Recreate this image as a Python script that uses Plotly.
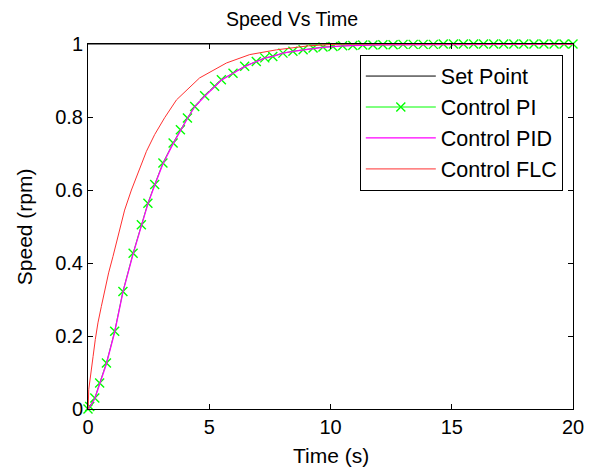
import plotly.graph_objects as go

# ---- data ----
set_t = [0, 20]
set_y = [1, 1]

pi_t = [0, 0.07, 0.28, 0.48, 0.76, 1.1, 1.44, 1.86, 2.2, 2.47, 2.75, 3.09, 3.51, 3.81,
        4.1, 4.4, 4.81, 5.22, 5.5, 5.98, 6.46, 6.94, 7.29, 7.62, 8.04, 8.45, 8.87, 9.28,
        9.69, 10.1, 10.5, 10.92, 11.33, 11.75, 12.16, 12.58, 12.99, 13.41, 13.82, 14.24,
        14.65, 15.07, 15.48, 15.9, 16.31, 16.73, 17.14, 17.56, 17.97, 18.39, 18.8, 19.22,
        19.63, 20.0]
pi_y = [0, 0.007, 0.03, 0.071, 0.126, 0.213, 0.322, 0.427, 0.505, 0.564, 0.615, 0.674,
        0.729, 0.765, 0.797, 0.829, 0.858, 0.884, 0.902, 0.92, 0.939, 0.952, 0.962, 0.966,
        0.975, 0.98, 0.984, 0.989, 0.992, 0.993, 0.995, 0.996, 0.997, 0.997, 0.998, 0.998,
        0.999, 0.999, 0.999, 0.999, 1.0, 1.0, 1.0, 1.0, 1.0, 1.0, 1.0, 1.0, 1.0, 1.0, 1.0,
        1.0, 1.0, 1.0]

pid_t = [0, 0.07, 0.28, 0.48, 0.76, 1.1, 1.44, 1.86, 2.2, 2.47, 2.75, 3.09, 3.51, 3.81,
         4.1, 4.4, 4.81, 5.22, 5.5, 5.98, 6.46, 6.94, 7.29, 7.62, 8.04, 8.45, 8.87, 9.28,
         9.69, 10.1, 10.5, 12.0, 14.0, 16.0, 18.0, 20.0]
pid_y = [0, 0.006, 0.028, 0.069, 0.124, 0.211, 0.32, 0.425, 0.503, 0.562, 0.613, 0.672,
         0.727, 0.764, 0.796, 0.828, 0.857, 0.883, 0.901, 0.92, 0.938, 0.952, 0.961, 0.966,
         0.975, 0.98, 0.984, 0.988, 0.991, 0.993, 0.995, 0.998, 0.999, 1.0, 1.0, 1.0]

flc_t = [0, 0.01, 0.03, 0.11, 0.21, 0.3, 0.41, 0.55, 0.69, 0.85, 1.03, 1.24, 1.51, 1.79,
         2.06, 2.41, 2.75, 3.16, 3.65, 4.6, 5.71, 6.67, 7.77, 9.1, 10.4, 20.0]
flc_y = [0, 0.007, 0.053, 0.099, 0.144, 0.19, 0.236, 0.281, 0.327, 0.373, 0.418, 0.473,
         0.545, 0.6, 0.648, 0.706, 0.752, 0.798, 0.847, 0.907, 0.948, 0.971, 0.984, 0.995,
         1.0, 1.0]

x_ticks = [0, 5, 10, 15, 20]
x_tick_text = ["0", "5", "10", "15", "20"]
y_ticks = [0, 0.2, 0.4, 0.6, 0.8, 1.0]
y_tick_text = ["0", "0.2", "0.4", "0.6", "0.8", "1"]

FONT = "Liberation Sans, Arial, sans-serif"

fig = go.Figure()
fig.add_trace(go.Scatter(x=set_t, y=set_y, mode="lines", name="Set Point",
                         line=dict(color="black", width=1)))
fig.add_trace(go.Scatter(x=pi_t, y=pi_y, mode="lines+markers", name="Control PI",
                         line=dict(color="#00ff00", width=1),
                         marker=dict(symbol="x-thin-open", size=9,
                                     line=dict(color="#00ff00", width=1.4)),
                         cliponaxis=False))
fig.add_trace(go.Scatter(x=pid_t, y=pid_y, mode="lines", name="Control PID",
                         line=dict(color="#ff00ff", width=1.3)))
fig.add_trace(go.Scatter(x=flc_t, y=flc_y, mode="lines", name="Control FLC",
                         line=dict(color="#ff3030", width=1)))

axis_common = dict(showgrid=False, zeroline=False, showline=True, linecolor="black",
                   linewidth=1, mirror="ticks", ticks="inside", ticklen=5,
                   tickcolor="black", automargin=False,
                   tickfont=dict(family=FONT, size=20, color="black"))

fig.update_xaxes(range=[0, 20], tickvals=x_ticks, ticktext=x_tick_text,
                 ticklabelstandoff=0, **axis_common)
fig.update_yaxes(range=[0, 1], tickvals=y_ticks, ticktext=y_tick_text,
                 ticklabelstandoff=0, **axis_common)

fig.update_layout(
    width=589, height=471,
    margin=dict(l=88, r=16, t=44, b=62, autoexpand=False),
    paper_bgcolor="white", plot_bgcolor="white",
    font=dict(family=FONT, size=20, color="black"),
    title=dict(text="Speed Vs Time", x=292 / 589, xanchor="center",
               xref="container", y=1 - 19 / 471, yanchor="middle", yref="container",
               font=dict(family=FONT, size=19.5, color="black")),
    showlegend=True,
    legend=dict(x=0.979, y=0.971, xanchor="right", yanchor="top",
                bgcolor="white", bordercolor="black", borderwidth=1,
                font=dict(family=FONT, size=21.5, color="black"),
                itemwidth=70, tracegroupgap=0),
    annotations=[
        dict(text="Time (s)", x=0.5, y=(409.3 - 456) / 365, xref="paper", yref="paper",
             xanchor="center", yanchor="middle", showarrow=False,
             font=dict(family=FONT, size=21, color="black")),
        dict(text="Speed (rpm)", x=(25 - 88.3) / 485, y=0.5, xref="paper", yref="paper",
             xanchor="center", yanchor="middle", textangle=-90, showarrow=False,
             font=dict(family=FONT, size=21, color="black")),
    ],
)

fig.write_html("out.html", config={"displayModeBar": False},
               post_script="document.body.style.margin='0';document.body.style.padding='0';")
